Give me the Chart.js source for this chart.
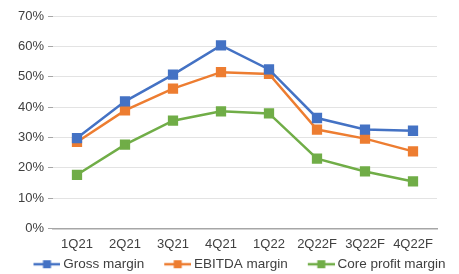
<!DOCTYPE html>
<html>
<head>
<meta charset="utf-8">
<script src="https://cdn.jsdelivr.net/npm/chart.js@4"></script>
<style>
  html, body { margin: 0; padding: 0; background: #fff; }
  #wrap { width: 459px; height: 274px; }
</style>
</head>
<body>
<div id="wrap"><canvas id="grafico"></canvas></div>
<script>
// datos
const trimestres = ['1Q21', '2Q21', '3Q21', '4Q21', '1Q22', '2Q22F', '3Q22F', '4Q22F'];
const grossMargin = [29.8, 41.9, 50.7, 60.3, 52.4, 36.4, 32.6, 32.2];
const ebitdaMargin = [28.5, 38.9, 46.1, 51.5, 50.9, 32.6, 29.6, 25.4];
const coreMargin = [17.7, 27.6, 35.5, 38.6, 37.9, 23.0, 18.8, 15.5];
const yTicks = [0, 10, 20, 30, 40, 50, 60, 70];

const azul = '#4472C4';
const naranja = '#ED7D31';
const verde = '#70AD47';

// icono de leyenda estilo excel (linea con cuadrado)
// el canvas es mas ancho que la caja de la leyenda: margen a la izquierda y pega al texto
const anchoCaja = 37;
function iconoLeyenda(color) {
  const c = document.createElement('canvas');
  c.width = anchoCaja + 8; c.height = 10;
  const g = c.getContext('2d');
  const x0 = c.width - 27;
  g.strokeStyle = color;
  g.lineWidth = 2.5;
  g.beginPath(); g.moveTo(x0, 5); g.lineTo(c.width, 5); g.stroke();
  g.fillStyle = color;
  g.fillRect(x0 + 9.5, 1, 8, 8);
  return c;
}

function serie(label, data, color) {
  return {
    label: label,
    data: data,
    borderColor: color,
    backgroundColor: color,
    borderWidth: 2.5,
    pointStyle: 'rect',
    pointRadius: 5.5,
    pointHoverRadius: 5.5,
    pointBackgroundColor: color,
    pointBorderColor: color,
    tension: 0,
    icono: iconoLeyenda(color)
  };
}

const fuente = { family: 'Liberation Sans, Arial', size: 13 };

const ctx = document.getElementById('grafico').getContext('2d');
new Chart(ctx, {
  type: 'line',
  data: {
    labels: trimestres,
    datasets: [
      serie('Gross margin', grossMargin, azul),
      serie('EBITDA margin', ebitdaMargin, naranja),
      serie('Core profit margin', coreMargin, verde)
    ]
  },
  options: {
    responsive: true,
    maintainAspectRatio: false,
    animation: false,
    layout: { padding: { left: 6, right: 0, top: 16, bottom: -7 } },
    plugins: {
      tooltip: { enabled: false },
      legend: {
        position: 'bottom',
        labels: {
          usePointStyle: true,
          pointStyleWidth: anchoCaja,
          color: '#404040',
          font: { family: 'Liberation Sans, Arial', size: 13.5 },
          padding: 6,
          generateLabels: chart => chart.data.datasets.map((ds, i) => ({
            text: ds.label,
            pointStyle: ds.icono,
            fillStyle: ds.borderColor,
            strokeStyle: ds.borderColor,
            lineWidth: 0,
            fontColor: '#404040',
            datasetIndex: i,
            hidden: false
          }))
        }
      }
    },
    scales: {
      x: {
        offset: true,
        afterFit: axis => { axis.height = 23; },
        grid: { display: false, drawTicks: false },
        border: { color: '#A6A6A6', width: 1.5 },
        ticks: {
          color: '#404040',
          font: fuente,
          padding: 8,
          maxRotation: 0
        }
      },
      y: {
        min: 0,
        max: 70,
        afterBuildTicks: axis => { axis.ticks = yTicks.map(v => ({ value: v })); },
        afterFit: axis => { axis.width = 47; },
        grid: { color: '#E3E3E3', lineWidth: 1, drawTicks: true, tickLength: 5, tickColor: '#A6A6A6' },
        border: { display: false },
        ticks: {
          color: '#404040',
          font: fuente,
          padding: 4,
          callback: v => v + '%'
        }
      },
      // eje vacio a la derecha solo para dejar el margen
      margen: {
        position: 'right',
        min: 0,
        max: 70,
        afterFit: axis => { axis.width = 22; },
        grid: { display: false, drawTicks: false },
        border: { display: false },
        ticks: { display: false }
      }
    }
  }
});
</script>
</body>
</html>
